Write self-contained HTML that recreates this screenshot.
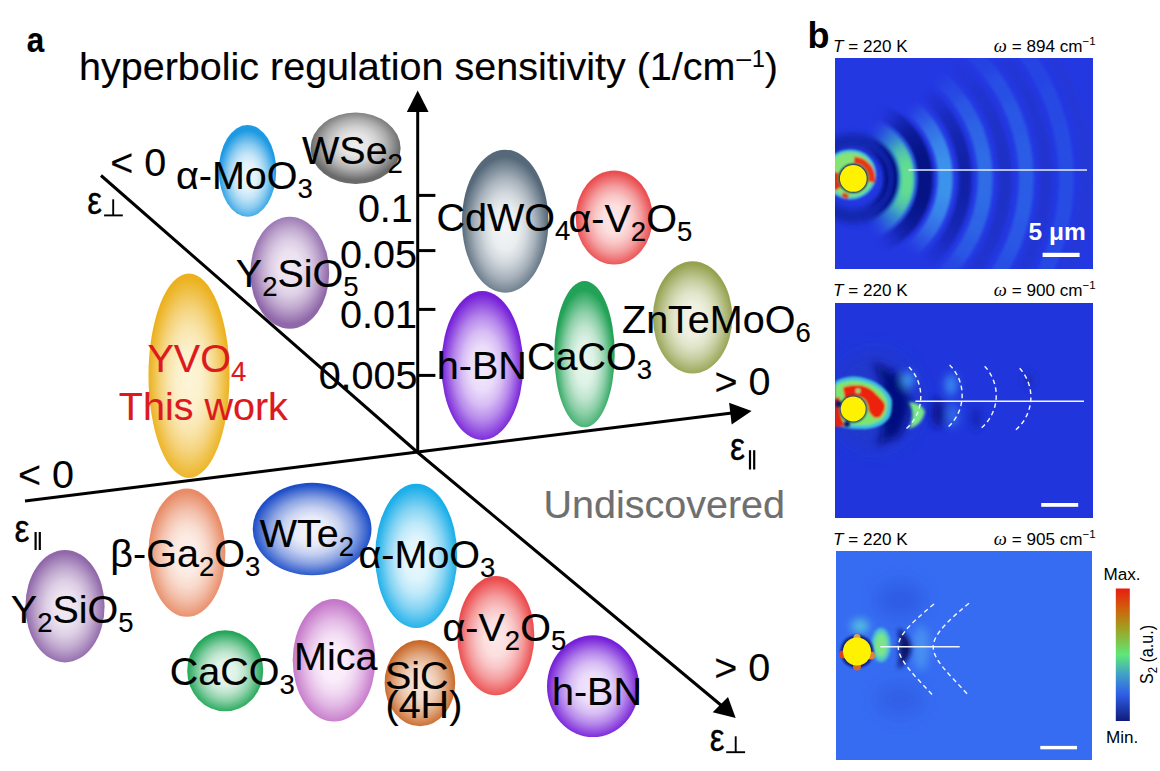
<!DOCTYPE html>
<html><head><meta charset="utf-8"><style>
html,body{margin:0;padding:0;background:#fff;}
body{width:1160px;height:771px;overflow:hidden;position:relative;}
svg{position:absolute;left:0;top:0;}
text{font-family:"Liberation Sans",sans-serif;}
.lt text{stroke:#000;stroke-width:0.15px;}
</style></head><body>
<svg width="1160" height="771" viewBox="0 0 1160 771">
<defs>
<radialGradient id="e1" cx="0.5" cy="0.56" r="0.5" fx="0.5" fy="0.56"><stop offset="0" stop-color="#eef8fd"/><stop offset="0.3" stop-color="#e2f2fb"/><stop offset="0.5" stop-color="#c0e3f7"/><stop offset="0.7" stop-color="#8acbf0"/><stop offset="0.85" stop-color="#54b2e9"/><stop offset="1" stop-color="#1e9ae2"/></radialGradient>
<radialGradient id="e2" cx="0.5" cy="0.45" r="0.5" fx="0.5" fy="0.45"><stop offset="0" stop-color="#ececec"/><stop offset="0.3" stop-color="#e4e4e4"/><stop offset="0.5" stop-color="#cfcfcf"/><stop offset="0.7" stop-color="#aeaeae"/><stop offset="0.85" stop-color="#8c8c8c"/><stop offset="1" stop-color="#6a6a6a"/></radialGradient>
<radialGradient id="e3" cx="0.5" cy="0.46" r="0.5" fx="0.5" fy="0.46"><stop offset="0" stop-color="#f1e9f4"/><stop offset="0.3" stop-color="#ebe1f0"/><stop offset="0.5" stop-color="#dccde4"/><stop offset="0.7" stop-color="#c2abd0"/><stop offset="0.85" stop-color="#a98abd"/><stop offset="1" stop-color="#9068aa"/></radialGradient>
<radialGradient id="e4" cx="0.5" cy="0.52" r="0.5" fx="0.5" fy="0.52"><stop offset="0" stop-color="#fdf5d8"/><stop offset="0.3" stop-color="#fcf1cd"/><stop offset="0.5" stop-color="#f9e6af"/><stop offset="0.7" stop-color="#f5d47f"/><stop offset="0.85" stop-color="#f0c34e"/><stop offset="1" stop-color="#ecb11e"/></radialGradient>
<radialGradient id="e5" cx="0.5" cy="0.55" r="0.5" fx="0.5" fy="0.55"><stop offset="0" stop-color="#f3f6f8"/><stop offset="0.3" stop-color="#eaeef0"/><stop offset="0.5" stop-color="#d0d7dc"/><stop offset="0.7" stop-color="#a8b2bc"/><stop offset="0.85" stop-color="#7f8e9b"/><stop offset="1" stop-color="#56697a"/></radialGradient>
<radialGradient id="e6" cx="0.5" cy="0.52" r="0.5" fx="0.5" fy="0.52"><stop offset="0" stop-color="#fde8e8"/><stop offset="0.3" stop-color="#fcdfdf"/><stop offset="0.5" stop-color="#f9c6c6"/><stop offset="0.7" stop-color="#f49e9f"/><stop offset="0.85" stop-color="#ef7577"/><stop offset="1" stop-color="#ea4d4f"/></radialGradient>
<radialGradient id="e7" cx="0.5" cy="0.52" r="0.5" fx="0.5" fy="0.52"><stop offset="0" stop-color="#f2e8fc"/><stop offset="0.3" stop-color="#ebdcfa"/><stop offset="0.5" stop-color="#d7bcf4"/><stop offset="0.7" stop-color="#b688eb"/><stop offset="0.85" stop-color="#9654e1"/><stop offset="1" stop-color="#7620d8"/></radialGradient>
<radialGradient id="e8" cx="0.5" cy="0.56" r="0.5" fx="0.5" fy="0.56"><stop offset="0" stop-color="#eaf7ef"/><stop offset="0.3" stop-color="#def2e6"/><stop offset="0.5" stop-color="#bee4cd"/><stop offset="0.7" stop-color="#8acea6"/><stop offset="0.85" stop-color="#56b87e"/><stop offset="1" stop-color="#22a256"/></radialGradient>
<radialGradient id="e9" cx="0.5" cy="0.52" r="0.5" fx="0.5" fy="0.52"><stop offset="0" stop-color="#f3f5e8"/><stop offset="0.3" stop-color="#edf0df"/><stop offset="0.5" stop-color="#dfe3c7"/><stop offset="0.7" stop-color="#c6cd9f"/><stop offset="0.85" stop-color="#aeb878"/><stop offset="1" stop-color="#96a250"/></radialGradient>
<radialGradient id="e10" cx="0.5" cy="0.52" r="0.5" fx="0.5" fy="0.52"><stop offset="0" stop-color="#fdf1eb"/><stop offset="0.3" stop-color="#fcebe3"/><stop offset="0.5" stop-color="#f8dbce"/><stop offset="0.7" stop-color="#f3c0ab"/><stop offset="0.85" stop-color="#eda689"/><stop offset="1" stop-color="#e88b66"/></radialGradient>
<radialGradient id="e11" cx="0.5" cy="0.52" r="0.5" fx="0.5" fy="0.52"><stop offset="0" stop-color="#f5f5fb"/><stop offset="0.3" stop-color="#e8ebf8"/><stop offset="0.5" stop-color="#c5d0f0"/><stop offset="0.7" stop-color="#8da5e3"/><stop offset="0.85" stop-color="#5579d5"/><stop offset="1" stop-color="#1d4ec8"/></radialGradient>
<radialGradient id="e12" cx="0.5" cy="0.52" r="0.5" fx="0.5" fy="0.52"><stop offset="0" stop-color="#eaf8fe"/><stop offset="0.3" stop-color="#def4fd"/><stop offset="0.5" stop-color="#bce8f9"/><stop offset="0.7" stop-color="#86d4f3"/><stop offset="0.85" stop-color="#50c1ee"/><stop offset="1" stop-color="#1aaee8"/></radialGradient>
<radialGradient id="e13" cx="0.5" cy="0.52" r="0.5" fx="0.5" fy="0.52"><stop offset="0" stop-color="#f1e9f4"/><stop offset="0.3" stop-color="#ebe1f0"/><stop offset="0.5" stop-color="#dccde4"/><stop offset="0.7" stop-color="#c2abd0"/><stop offset="0.85" stop-color="#a98abd"/><stop offset="1" stop-color="#9068aa"/></radialGradient>
<radialGradient id="e14" cx="0.5" cy="0.52" r="0.5" fx="0.5" fy="0.52"><stop offset="0" stop-color="#eaf7ef"/><stop offset="0.3" stop-color="#def2e6"/><stop offset="0.5" stop-color="#bee5ce"/><stop offset="0.7" stop-color="#8ad0a7"/><stop offset="0.85" stop-color="#56bb7f"/><stop offset="1" stop-color="#22a658"/></radialGradient>
<radialGradient id="e15" cx="0.5" cy="0.52" r="0.5" fx="0.5" fy="0.52"><stop offset="0" stop-color="#fdf3fd"/><stop offset="0.3" stop-color="#faecfa"/><stop offset="0.5" stop-color="#f1d8f2"/><stop offset="0.7" stop-color="#e2b8e5"/><stop offset="0.85" stop-color="#d498d7"/><stop offset="1" stop-color="#c578ca"/></radialGradient>
<radialGradient id="e16" cx="0.5" cy="0.52" r="0.5" fx="0.5" fy="0.52"><stop offset="0" stop-color="#f6e2d4"/><stop offset="0.3" stop-color="#f3dbca"/><stop offset="0.5" stop-color="#ecc8af"/><stop offset="0.7" stop-color="#e0a882"/><stop offset="0.85" stop-color="#d58956"/><stop offset="1" stop-color="#c96a2a"/></radialGradient>
<radialGradient id="e17" cx="0.5" cy="0.52" r="0.5" fx="0.5" fy="0.52"><stop offset="0" stop-color="#fde8e8"/><stop offset="0.3" stop-color="#fcdfdf"/><stop offset="0.5" stop-color="#f9c5c6"/><stop offset="0.7" stop-color="#f49d9e"/><stop offset="0.85" stop-color="#f07475"/><stop offset="1" stop-color="#eb4b4d"/></radialGradient>
<radialGradient id="e18" cx="0.5" cy="0.52" r="0.5" fx="0.5" fy="0.52"><stop offset="0" stop-color="#f2e8fc"/><stop offset="0.3" stop-color="#ebdcfa"/><stop offset="0.5" stop-color="#d7bcf4"/><stop offset="0.7" stop-color="#b688eb"/><stop offset="0.85" stop-color="#9654e1"/><stop offset="1" stop-color="#7620d8"/></radialGradient>
<clipPath id="cp1"><rect x="835" y="58" width="258" height="211"/></clipPath>
<filter id="bl3" x="-50%" y="-50%" width="200%" height="200%"><feGaussianBlur stdDeviation="3"/></filter>
<filter id="bl2" x="-50%" y="-50%" width="200%" height="200%"><feGaussianBlur stdDeviation="1.6"/></filter>
<filter id="bl5" x="-100%" y="-100%" width="300%" height="300%"><feGaussianBlur stdDeviation="5"/></filter>
<filter id="bl25" x="-100%" y="-100%" width="300%" height="300%"><feGaussianBlur stdDeviation="2.5"/></filter>
<filter id="bl1" x="-50%" y="-50%" width="200%" height="200%"><feGaussianBlur stdDeviation="0.8"/></filter>
<filter id="bl20" x="-50%" y="-50%" width="200%" height="200%"><feGaussianBlur stdDeviation="22"/></filter>
<filter id="bl6" x="-50%" y="-50%" width="200%" height="200%"><feGaussianBlur stdDeviation="6"/></filter>
<mask id="m1" maskUnits="userSpaceOnUse" x="835" y="58" width="258" height="211">
<rect x="835" y="58" width="258" height="211" fill="#000"/>
<g filter="url(#bl6)"><polygon points="853.3,178.4 1241.4,81.6 1253.3,81.6 1253.3,275.2 1241.4,275.2" fill="#fff" fill-opacity="0.5"/><polygon points="853.3,178.4 1212.8,3.1 1253.3,3.1 1253.3,353.7 1212.8,353.7" fill="#fff" fill-opacity="0.45"/><polygon points="853.3,178.4 1172.8,-62.3 1253.3,-62.3 1253.3,419.1 1172.8,419.1" fill="#fff" fill-opacity="0.4"/><polygon points="853.3,178.4 1126.1,-114.1 1253.3,-114.1 1253.3,470.9 1126.1,470.9" fill="#fff" fill-opacity="0.25"/></g></mask>
<mask id="m1b" maskUnits="userSpaceOnUse" x="835" y="58" width="258" height="211">
<rect x="835" y="58" width="258" height="211" fill="#000"/>
<g filter="url(#bl6)"><polygon points="853.3,178.4 1218.7,15.7 1253.3,15.7 1253.3,341.1 1218.7,341.1" fill="#fff" fill-opacity="0.45"/><polygon points="853.3,178.4 1159.7,-78.7 1253.3,-78.7 1253.3,435.5 1159.7,435.5" fill="#fff" fill-opacity="0.45"/><polygon points="853.3,178.4 1099.6,-136.8 1253.3,-136.8 1253.3,493.6 1099.6,493.6" fill="#fff" fill-opacity="0.4"/><polygon points="853.3,178.4 1041.1,-174.8 1253.3,-174.8 1253.3,531.6 1041.1,531.6" fill="#fff" fill-opacity="0.2"/></g></mask>
<mask id="m1c" maskUnits="userSpaceOnUse" x="835" y="58" width="258" height="211">
<rect x="835" y="58" width="258" height="211" fill="#000"/>
<g filter="url(#bl6)"><polygon points="853.3,178.4 1229.2,41.6 1253.3,41.6 1253.3,315.2 1229.2,315.2" fill="#fff" fill-opacity="0.5"/><polygon points="853.3,178.4 1181.0,-51.0 1253.3,-51.0 1253.3,407.8 1181.0,407.8" fill="#fff" fill-opacity="0.5"/></g></mask>
<clipPath id="cp2"><rect x="835" y="303" width="258" height="215"/></clipPath>
<filter id="bl4" x="-100%" y="-100%" width="300%" height="300%"><feGaussianBlur stdDeviation="4"/></filter>
<filter id="bl8" x="-100%" y="-100%" width="300%" height="300%"><feGaussianBlur stdDeviation="9"/></filter>
<clipPath id="cp3"><rect x="836" y="551" width="256" height="209"/></clipPath>
<linearGradient id="cbar" x1="0" y1="0" x2="0" y2="1">
<stop offset="0" stop-color="#e81c10"/><stop offset="0.15" stop-color="#d0600c"/>
<stop offset="0.3" stop-color="#a0a020"/><stop offset="0.5" stop-color="#5ee878"/>
<stop offset="0.65" stop-color="#40a0c8"/><stop offset="0.8" stop-color="#2f5ee8"/>
<stop offset="1" stop-color="#0e1c78"/></linearGradient>

</defs>
<ellipse cx="247.5" cy="170.8" rx="28.7" ry="45.9" fill="url(#e1)"/>
<ellipse cx="355.6" cy="148.2" rx="45.0" ry="35.8" fill="url(#e2)"/>
<ellipse cx="289.8" cy="272.7" rx="39.4" ry="56.0" fill="url(#e3)"/>
<ellipse cx="189.0" cy="375.7" rx="40.5" ry="102.2" fill="url(#e4)"/>
<ellipse cx="505.2" cy="221.2" rx="43.2" ry="71.5" fill="url(#e5)"/>
<ellipse cx="614.2" cy="217.5" rx="38.5" ry="47.1" fill="url(#e6)"/>
<ellipse cx="482.3" cy="365.5" rx="40.9" ry="74.5" fill="url(#e7)"/>
<ellipse cx="584.5" cy="354.1" rx="30.2" ry="73.2" fill="url(#e8)"/>
<ellipse cx="692.6" cy="317.4" rx="39.7" ry="56.1" fill="url(#e9)"/>
<ellipse cx="186.9" cy="552.7" rx="38.5" ry="64.1" fill="url(#e10)"/>
<ellipse cx="312.1" cy="529.0" rx="59.4" ry="46.3" fill="url(#e11)"/>
<ellipse cx="416.2" cy="555.9" rx="41.0" ry="72.1" fill="url(#e12)"/>
<ellipse cx="65.0" cy="606.2" rx="39.6" ry="56.2" fill="url(#e13)"/>
<ellipse cx="225.2" cy="670.8" rx="38.0" ry="40.5" fill="url(#e14)"/>
<ellipse cx="334.0" cy="660.3" rx="41.3" ry="61.3" fill="url(#e15)"/>
<ellipse cx="419.9" cy="683.1" rx="35.3" ry="43.1" fill="url(#e16)"/>
<ellipse cx="495.8" cy="635.7" rx="38.5" ry="59.6" fill="url(#e17)"/>
<ellipse cx="593.0" cy="686.2" rx="46.0" ry="50.9" fill="url(#e18)"/>


<g stroke="#000" stroke-width="3" fill="none" stroke-linecap="butt">
<line x1="417.7" y1="452" x2="417.7" y2="110"/>
<polyline points="25,501 417.7,452 732,413"/>
<polyline points="101,175.5 417.7,452.5 722,706"/>
<line x1="417.7" y1="195.4" x2="435.4" y2="195.4"/>
<line x1="417.7" y1="250.6" x2="435.4" y2="250.6"/>
<line x1="417.7" y1="309.4" x2="435.4" y2="309.4"/>
<line x1="417.7" y1="375.4" x2="435.4" y2="375.4"/>
</g>
<g fill="#000">
<polygon points="417.7,90.5 406.8,112 428.6,112"/>
<polygon points="751.6,411 729.1,402.8 731.7,424.4"/>
<polygon points="735.7,718 712.7,712.3 728,697"/>
</g>

<g class="lt"><text transform="translate(27.6,51.9) scale(0.9,1)" x="-1" y="0" font-size="34.8" font-weight="bold">a</text>
<text x="79.0" y="79.5" font-size="39.5" fill="#000" ><tspan>hyperbolic regulation sensitivity (1/cm</tspan><tspan dy="-12.6" font-size="26" dx="1">–</tspan><tspan font-size="23" dx="1">1</tspan><tspan dy="12.6">)</tspan></text>
<text x="110.2" y="175.5" font-size="39.5" fill="#000" ><tspan>&lt; 0</tspan></text>
<text x="175.9" y="188.5" font-size="39.5" fill="#000" ><tspan>α-MoO</tspan><tspan dy="9" font-size="27.5">3</tspan></text>
<text x="302.0" y="163.8" font-size="39.5" fill="#000" ><tspan>WSe</tspan><tspan dy="9" font-size="27.5">2</tspan></text>
<text x="412.8" y="221.7" font-size="39.5" text-anchor="end">0.1</text>
<text x="417" y="268" font-size="39.5" text-anchor="end">0.05</text>
<text x="417" y="327.5" font-size="39.5" text-anchor="end">0.01</text>
<text x="417.5" y="388.5" font-size="39.5" text-anchor="end">0.005</text>
<text x="235.8" y="286.7" font-size="39.5" fill="#000" ><tspan>Y</tspan><tspan dy="9" font-size="27.5">2</tspan><tspan dy="-9">SiO</tspan><tspan dy="9" font-size="27.5">5</tspan></text>
<text x="436.5" y="230.6" font-size="39.5" fill="#000" ><tspan>CdWO</tspan><tspan dy="9" font-size="27.5">4</tspan></text>
<text x="568.5" y="232.0" font-size="39.5" fill="#000" ><tspan>α-V</tspan><tspan dy="9" font-size="27.5">2</tspan><tspan dy="-9">O</tspan><tspan dy="9" font-size="27.5">5</tspan></text>
<text x="436.8" y="379.2" font-size="39.5" fill="#000" ><tspan>h-BN</tspan></text>
<text x="527.0" y="369.5" font-size="39.5" fill="#000" ><tspan>CaCO</tspan><tspan dy="9" font-size="27.5">3</tspan></text>
<text x="622.0" y="332.7" font-size="39.5" fill="#000" ><tspan>ZnTeMoO</tspan><tspan dy="9" font-size="27.5">6</tspan></text>
<text x="714.4" y="394.5" font-size="39.5" fill="#000" ><tspan>&gt; 0</tspan></text>
<text x="147.5" y="371.8" font-size="39.5" fill="#dc1a1e" style="stroke:#dc1a1e"><tspan>YVO</tspan><tspan dy="9" font-size="27.5">4</tspan></text>
<text x="118.8" y="420.0" font-size="39.5" fill="#dc1a1e" style="stroke:#dc1a1e"><tspan>This work</tspan></text>
<text x="17.9" y="488.0" font-size="39.5" fill="#000" ><tspan>&lt; 0</tspan></text>
<text x="110.3" y="567.4" font-size="39.5" fill="#000" ><tspan>β-Ga</tspan><tspan dy="9" font-size="27.5">2</tspan><tspan dy="-9">O</tspan><tspan dy="9" font-size="27.5">3</tspan></text>
<text x="259.8" y="547.3" font-size="39.5" fill="#000" ><tspan>WTe</tspan><tspan dy="9" font-size="27.5">2</tspan></text>
<text x="358.5" y="568.4" font-size="39.5" fill="#000" ><tspan>α-MoO</tspan><tspan dy="9" font-size="27.5">3</tspan></text>
<text x="10.8" y="623.0" font-size="39.5" fill="#000" ><tspan>Y</tspan><tspan dy="9" font-size="27.5">2</tspan><tspan dy="-9">SiO</tspan><tspan dy="9" font-size="27.5">5</tspan></text>
<text x="169.8" y="685.2" font-size="39.5" fill="#000" ><tspan>CaCO</tspan><tspan dy="9" font-size="27.5">3</tspan></text>
<text x="294.0" y="670.2" font-size="39.5" fill="#000" ><tspan>Mica</tspan></text>
<text x="385.0" y="689.3" font-size="39.5" fill="#000" ><tspan>SiC</tspan></text>
<text x="385.5" y="718.4" font-size="39.5" fill="#000" ><tspan>(4H)</tspan></text>
<text x="442.5" y="640.8" font-size="39.5" fill="#000" ><tspan>α-V</tspan><tspan dy="9" font-size="27.5">2</tspan><tspan dy="-9">O</tspan><tspan dy="9" font-size="27.5">5</tspan></text>
<text x="552.0" y="704.5" font-size="39.5" fill="#000" ><tspan>h-BN</tspan></text>
<text x="543.5" y="517.5" font-size="39.5" fill="#6f6f6f" style="stroke:#6f6f6f"><tspan>Undiscovered</tspan></text>
<text x="714.2" y="680.5" font-size="39.5" fill="#000" ><tspan>&gt; 0</tspan></text>
</g>
<text transform="translate(731.1,460.1) scale(0.86,1)" x="-1.3" y="0" font-size="39.1" stroke="#000" stroke-width="0.35">ε</text>
<g stroke="#000" stroke-width="2.2"><line x1="750" y1="450.2" x2="750" y2="469.5"/><line x1="754.2" y1="450.2" x2="754.2" y2="469.5"/></g>
<text transform="translate(15.6,541.8) scale(0.86,1)" x="-1.3" y="0" font-size="38.9" stroke="#000" stroke-width="0.35">ε</text>
<g stroke="#000" stroke-width="2.2"><line x1="35.6" y1="532" x2="35.6" y2="550"/><line x1="39.8" y1="532" x2="39.8" y2="550"/></g>
<text transform="translate(88.3,214.2) scale(0.86,1)" x="-1.3" y="0" font-size="38.3" stroke="#000" stroke-width="0.35">ε</text>
<g stroke="#000" stroke-width="1.9"><line x1="104.1" y1="215.4" x2="122.8" y2="215.4"/><line x1="113.2" y1="199.3" x2="113.2" y2="215.4"/></g>
<text transform="translate(710.9,751.0) scale(0.86,1)" x="-1.3" y="0" font-size="38.3" stroke="#000" stroke-width="0.35">ε</text>
<g stroke="#000" stroke-width="1.9"><line x1="726.2" y1="752.2" x2="745.1" y2="752.2"/><line x1="735.7" y1="736.3" x2="735.7" y2="752.2"/></g>

<g clip-path="url(#cp1)">
<rect x="835" y="58" width="258" height="211" fill="#2438e2"/>
<circle cx="853.3" cy="178.4" r="38" fill="none" stroke="#10209e" stroke-width="14" opacity="0.75" filter="url(#bl3)"/>
<g mask="url(#m1)"><g filter="url(#bl2)">
<circle cx="853.3" cy="178.4" r="92" fill="none" stroke="#40a0ec" stroke-width="15" stroke-opacity="1.0"/>
<circle cx="853.3" cy="178.4" r="112" fill="none" stroke="#0e1c9c" stroke-width="13" stroke-opacity="0.95"/>
<circle cx="853.3" cy="178.4" r="132" fill="none" stroke="#347ee8" stroke-width="15" stroke-opacity="0.85"/>
<circle cx="853.3" cy="178.4" r="152" fill="none" stroke="#1a2eb8" stroke-width="13" stroke-opacity="0.75"/>
<circle cx="853.3" cy="178.4" r="173" fill="none" stroke="#3074e8" stroke-width="15" stroke-opacity="0.7"/>
<circle cx="853.3" cy="178.4" r="193" fill="none" stroke="#1e34c0" stroke-width="13" stroke-opacity="0.6"/>
<circle cx="853.3" cy="178.4" r="213" fill="none" stroke="#2e66e8" stroke-width="15" stroke-opacity="0.5"/>
<circle cx="853.3" cy="178.4" r="233" fill="none" stroke="#2036c4" stroke-width="13" stroke-opacity="0.4"/>
</g></g>
<g mask="url(#m1b)"><g filter="url(#bl2)">
<circle cx="853.3" cy="178.4" r="33.5" fill="none" stroke="#06107e" stroke-width="5"/>
<circle cx="853.3" cy="178.4" r="42.5" fill="none" stroke="#06107e" stroke-width="6"/>
<circle cx="853.3" cy="178.4" r="54" fill="none" stroke="#40c0c8" stroke-width="16"/>
<circle cx="853.3" cy="178.4" r="72" fill="none" stroke="#050c74" stroke-width="15"/>
</g></g>
<g mask="url(#m1c)"><circle cx="853.3" cy="178.4" r="54" fill="none" stroke="#70ee7c" stroke-width="12" filter="url(#bl2)"/></g>
<g filter="url(#bl1)"><ellipse cx="850.3" cy="174.4" rx="26" ry="25" fill="#48c8d0"/><ellipse cx="850.3" cy="174.4" rx="23" ry="22" fill="#86e474"/><path d="M853.9,159.9 A18.5,18.5 0 0 1 871.4,182.2" fill="none" stroke="#e83414" stroke-width="7"/><path d="M835.9,172.1 A18.5,18.5 0 0 0 838.1,189.0" fill="none" stroke="#e03010" stroke-width="8"/><path d="M842.4,194.0 A19,19 0 0 0 848.4,196.8" fill="none" stroke="#d84018" stroke-width="5"/></g>
<circle cx="853.3" cy="178.4" r="14.6" fill="#0c1860" filter="url(#bl1)"/><circle cx="853.3" cy="178.4" r="13.4" fill="#fff200"/>
<line x1="908.5" y1="170" x2="1087" y2="170" stroke="#e6f0ff" stroke-width="1.6"/>
</g>
<text x="1028.6" y="239.8" font-size="24.5" font-weight="bold" fill="#fff">5 μm</text>
<rect x="1042.6" y="252.8" width="37" height="4.2" fill="#fff"/>
<g clip-path="url(#cp2)">
<rect x="835" y="303" width="258" height="215" fill="#2036dc"/>
<g filter="url(#bl8)"><ellipse cx="875" cy="400" rx="45" ry="50" fill="#2038c8" opacity="0.8"/></g>
<g filter="url(#bl4)"><path d="M872,362 Q906,376 910,405 Q908,432 876,446 Q900,405 872,362 Z" fill="#050c70"/><ellipse cx="893" cy="405" rx="14" ry="34" fill="#060e80"/><ellipse cx="908" cy="380" rx="6" ry="8" fill="#3c9af0"/><ellipse cx="938" cy="413" rx="7" ry="15" fill="#0a1490"/><ellipse cx="951" cy="385" rx="6" ry="11" fill="#3a8cf0"/><ellipse cx="953" cy="415" rx="5" ry="12" fill="#3a8cf0" opacity="0.7"/><ellipse cx="976" cy="418" rx="5" ry="11" fill="#1424b0"/><ellipse cx="1029" cy="380" rx="4" ry="7" fill="#1a28b0"/></g>
<g filter="url(#bl2)"><path d="M909,402 Q922,403 925,412 Q922,425 909,429 Q916,415 909,402 Z" fill="#78e888"/></g>
<g filter="url(#bl1)"><path d="M835,382.4 C838,379 846,376.6 854.5,376.6 C862,376.6 876,381 883,387.6 C889,393 892,398 892,401.9 C892,410 891,414 889.5,417.4 C886,422 882,425 877.8,426.5 C870,429 866,429.5 861,429.1 C855,429 850,428.5 845.4,427.8 L835,425.2 Z" fill="#3cc0e0"/><path d="M835,386 C840,382 847,380.5 854.5,380.5 C862,380.5 873,384 880,390 C885,395 887.5,399 887.5,403 C887.5,409 886.5,413 885,416 C882,420 878,422 874,423.5 C868,425.5 864,425.5 860,425.2 C855,425 850,424.5 846,423.5 L835,421 Z" fill="#7ee66e"/><path d="M842.8,387.6 C846,386 850,385 856,385 C864.8,385.2 870,388 873.9,391.5 C878,396 883,400 884.8,403.5 C886,407 884.5,412 880.4,417 C877.5,418.5 875,418 873.9,417.4 C870,414 868.7,411 868.7,411 C868,404 866,400 862,398 C856,395 850,396 845,399 Z" fill="#ec2410"/><path d="M835,398 L840,397 C839,408 840,418 846,426 L835,427 Z" fill="#e42410"/><circle cx="858" cy="391" r="2.4" fill="#80e080"/></g>
<circle cx="838.5" cy="404" r="3.2" fill="#101870" filter="url(#bl1)"/><circle cx="847" cy="424" r="3" fill="#101870" filter="url(#bl1)"/>
<circle cx="853.2" cy="409.0" r="13.5" fill="#101870" filter="url(#bl1)"/><circle cx="853.2" cy="409.0" r="12.5" fill="#fff200"/>
<line x1="915.4" y1="401.2" x2="1084" y2="401.2" stroke="#f0f6ff" stroke-width="1.6"/>
<path d="M909,366.9 A43,43 0 0 1 905,429.8" fill="none" stroke="#f4f8ff" stroke-width="1.4" stroke-dasharray="4.6 3.4"/>
<path d="M949.6,364.9 A43,43 0 0 1 946.4,428.5" fill="none" stroke="#f4f8ff" stroke-width="1.4" stroke-dasharray="4.6 3.4"/>
<path d="M984.7,366.2 A43,43 0 0 1 980.1,429.1" fill="none" stroke="#f4f8ff" stroke-width="1.4" stroke-dasharray="4.6 3.4"/>
<path d="M1019.7,368.2 A43,43 0 0 1 1015.1,430.4" fill="none" stroke="#f4f8ff" stroke-width="1.4" stroke-dasharray="4.6 3.4"/>
</g>
<rect x="1041.2" y="503" width="37" height="3.8" fill="#fff"/>
<g clip-path="url(#cp3)">
<rect x="836" y="551" width="256" height="209" fill="#366cf2"/>
<g filter="url(#bl8)"><ellipse cx="900" cy="600" rx="25" ry="18" fill="#2c58e0" opacity="0.8"/><ellipse cx="900" cy="700" rx="25" ry="18" fill="#2c58e0" opacity="0.6"/></g>
<g filter="url(#bl4)"><ellipse cx="860" cy="626" rx="9" ry="7" fill="#52c0e0"/><ellipse cx="921" cy="648" rx="8" ry="22" fill="#4e9af0" opacity="0.8"/></g>
<g filter="url(#bl25)"><path d="M898,628 Q910,636 911,648 Q910,660 898,669 Q902,648 898,628 Z" fill="#081060"/><ellipse cx="903" cy="648" rx="4" ry="14" fill="#081268"/></g>
<g filter="url(#bl2)"><ellipse cx="881" cy="645" rx="9.5" ry="17" fill="#50c8c8"/><ellipse cx="881" cy="645" rx="6" ry="12" fill="#7ee488"/></g>
<circle cx="857" cy="651.5" r="16.5" fill="#0e1c80" filter="url(#bl1)"/><circle cx="843" cy="654.5" r="4" fill="#e04018"/><circle cx="857" cy="666.5" r="4" fill="#d86828"/><circle cx="871" cy="655.5" r="4" fill="#e08040"/><circle cx="857" cy="637.5" r="3.5" fill="#e0a050"/><circle cx="857" cy="651.5" r="14" fill="#fff200"/>
<line x1="880.3" y1="646.8" x2="959.7" y2="646.8" stroke="#f0f6ff" stroke-width="1.6"/>
<path d="M934,604 C915,620 898.2,634 898.2,646.8 C898.2,660 915,676 932.5,695" fill="none" stroke="#f4f8ff" stroke-width="1.4" stroke-dasharray="4.6 3.4"/>
<path d="M969,603.2 C950,619 933.2,634 933.2,646.8 C933.2,660 950,675 967.5,694.2" fill="none" stroke="#f4f8ff" stroke-width="1.4" stroke-dasharray="4.6 3.4"/>
</g>
<rect x="1040.3" y="745.9" width="36.7" height="3.4" fill="#fff"/>
<rect x="1115.8" y="588.5" width="14" height="132.5" fill="url(#cbar)"/>
<text x="833.0" y="51.7" font-size="17.1" fill="#000"><tspan font-style="italic">T</tspan> = 220 K</text>
<text x="1095.6" y="51.7" font-size="17.1" fill="#000" text-anchor="end"><tspan font-family="Liberation Serif" font-style="italic" font-size="18.5">ω</tspan> = 894 cm<tspan dy="-7" font-size="11.5">−1</tspan></text>
<text x="833.0" y="296.3" font-size="17.1" fill="#000"><tspan font-style="italic">T</tspan> = 220 K</text>
<text x="1095.6" y="296.3" font-size="17.1" fill="#000" text-anchor="end"><tspan font-family="Liberation Serif" font-style="italic" font-size="18.5">ω</tspan> = 900 cm<tspan dy="-7" font-size="11.5">−1</tspan></text>
<text x="833.0" y="545.0" font-size="17.1" fill="#000"><tspan font-style="italic">T</tspan> = 220 K</text>
<text x="1095.6" y="545.0" font-size="17.1" fill="#000" text-anchor="end"><tspan font-family="Liberation Serif" font-style="italic" font-size="18.5">ω</tspan> = 905 cm<tspan dy="-7" font-size="11.5">−1</tspan></text>
<text x="1103.5" y="579.8" font-size="17.1">Max.</text>
<text x="1105.9" y="742.8" font-size="17.1">Min.</text>
<text transform="translate(1153.3,684) rotate(-90) scale(0.87,1)" font-size="18.5">S<tspan dy="4" font-size="13">2</tspan><tspan dy="-4"> (a.u.)</tspan></text>
<text x="807.5" y="47.8" font-size="36" font-weight="bold">b</text>

</svg>
</body></html>
